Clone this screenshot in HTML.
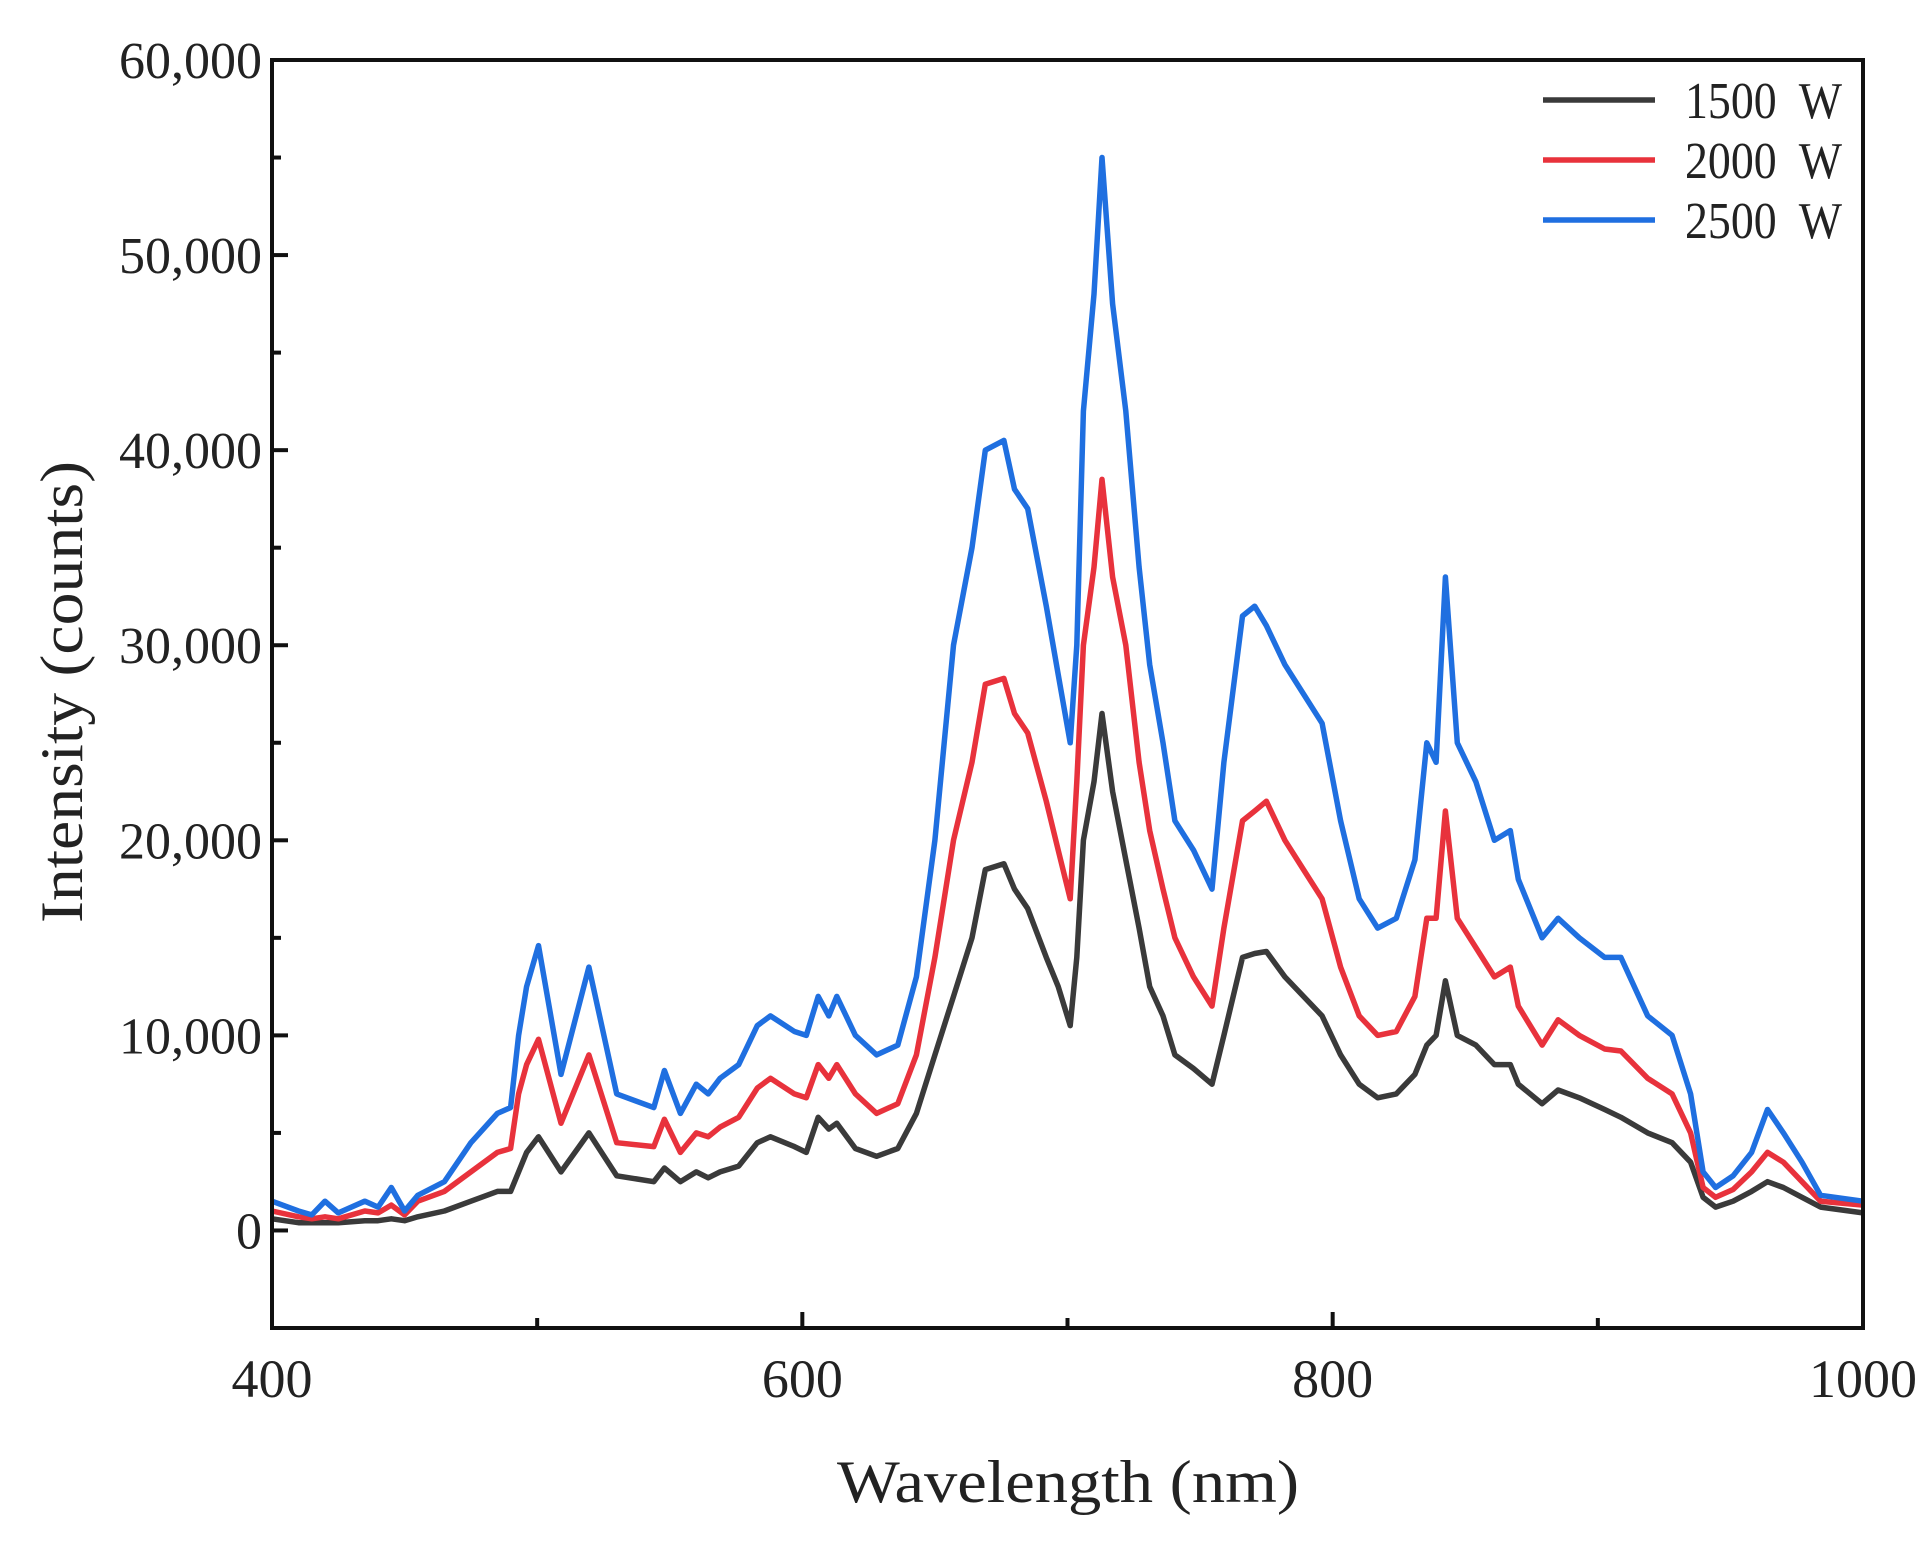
<!DOCTYPE html>
<html><head><meta charset="utf-8"><style>
html,body{margin:0;padding:0;background:#fff;}
svg{display:block;}
text{font-family:"Liberation Serif",serif;fill:#222;}
</style></head><body>
<svg id="chart" width="1930" height="1554" viewBox="0 0 1930 1554" xmlns="http://www.w3.org/2000/svg">
<g id="series"></g>
<g id="axes"></g>
<text x="0" y="0" font-size="60" text-anchor="middle" textLength="462" lengthAdjust="spacingAndGlyphs" transform="translate(82,692) rotate(-90)">Intensity (counts)</text>
<text x="1068" y="1502" font-size="60" text-anchor="middle" textLength="462" lengthAdjust="spacingAndGlyphs">Wavelength (nm)</text>
<g>
<line x1="1543" y1="100" x2="1655" y2="100" stroke="#3a3a3a" stroke-width="5.5"/>
<text x="1685" y="118" font-size="52" textLength="157" lengthAdjust="spacingAndGlyphs" xml:space="preserve">1500  W</text>
<line x1="1543" y1="160" x2="1655" y2="160" stroke="#e8323c" stroke-width="5.5"/>
<text x="1685" y="178" font-size="52" textLength="157" lengthAdjust="spacingAndGlyphs" xml:space="preserve">2000  W</text>
<line x1="1543" y1="220" x2="1655" y2="220" stroke="#1f6fe0" stroke-width="5.5"/>
<text x="1685" y="238" font-size="52" textLength="157" lengthAdjust="spacingAndGlyphs" xml:space="preserve">2500  W</text>
</g>
</svg>
<script>
const wavelengths=[400,410,415,420,425,435,440,445,450,455,465,475,485,490,493,496,500.5,509,519.5,530,544,548,554,560,564.5,569,576,583,588,597,601.5,606,610,613,620,628,636,643,650,657,664,669,676,680,685,692,696.5,701,703.5,706,710,713,717,722,727,731,736,740.5,747.5,754.5,759,766,770.6,775,782,789,796,803,810,817,824,831,835.5,839,842.5,847,854,861,867,870,879,885,893,902.6,908.7,918.8,928,935,939.7,944.4,951,958,964,970,977,984,1000];
const blue2500=[1.5,1.0,0.8,1.5,0.9,1.5,1.2,2.2,1.0,1.8,2.5,4.5,6.0,6.3,10,12.5,14.6,8,13.5,7,6.3,8.2,6,7.5,7,7.8,8.5,10.5,11,10.2,10,12,11,12,10,9,9.5,13,20,30,35,40,40.5,38,37,32,28.5,25,30,42,48,55,47.5,42,34,29,25,21,19.5,17.5,24,31.5,32,31,29,27.5,26,21,17,15.5,16,19,25,24,33.5,25,23,20,20.5,18,15,16,15,14,14,11,10,7,3,2.2,2.8,4,6.2,5,3.5,1.8,1.5];
const red2000=[1.0,0.7,0.6,0.7,0.6,1.0,0.9,1.3,0.8,1.5,2.0,3.0,4.0,4.2,7,8.5,9.8,5.5,9,4.5,4.3,5.7,4,5,4.8,5.3,5.8,7.3,7.8,7,6.8,8.5,7.8,8.5,7,6,6.5,9,14,20,24,28,28.3,26.5,25.5,22,19.5,17,23,30,34,38.5,33.5,30,24,20.5,17.5,15,13,11.5,15.5,21,21.5,22,20,18.5,17,13.5,11,10,10.2,12,16,16,21.5,16,14.5,13,13.5,11.5,9.5,10.8,10,9.3,9.2,7.8,7,5,2.2,1.7,2.1,3,4,3.5,2.5,1.5,1.3];
const black1500=[0.6,0.4,0.4,0.4,0.4,0.5,0.5,0.6,0.5,0.7,1.0,1.5,2.0,2.0,3,4,4.8,3,5,2.8,2.5,3.2,2.5,3,2.7,3,3.3,4.5,4.8,4.3,4,5.8,5.2,5.5,4.2,3.8,4.2,6,9,12,15,18.5,18.8,17.5,16.5,14,12.5,10.5,14,20,23,26.5,22.5,19,15.5,12.5,11,9,8.3,7.5,10,14,14.2,14.3,13,12,11,9,7.5,6.8,7,8,9.5,10,12.8,10,9.5,8.5,8.5,7.5,6.5,7.2,6.8,6.2,5.8,5,4.5,3.5,1.7,1.2,1.5,2,2.5,2.2,1.7,1.2,0.9];
const yTickValues=[0,10000,20000,30000,40000,50000,60000];
const yTickLabels=["0","10,000","20,000","30,000","40,000","50,000","60,000"];
const xTickValues=[400,600,800,1000];
const xTickLabels=["400","600","800","1000"];

const L=272,R=1863,T=60,B=1328;
const xMin=400,xMax=1000,yMin=-5000,yMax=60000;
function xs(v){return L+(v-xMin)/(xMax-xMin)*(R-L);}
function ys(v){return B-(v-yMin)/(yMax-yMin)*(B-T);}
const NS="http://www.w3.org/2000/svg";
const sg=document.getElementById('series');
const ag=document.getElementById('axes');
function mk(tag,attrs,parent){const e=document.createElementNS(NS,tag);for(const k in attrs)e.setAttribute(k,attrs[k]);parent.appendChild(e);return e;}

const seriesList=[[black1500,'#3a3a3a','series-1500w'],[red2000,'#e8323c','series-2000w'],[blue2500,'#1f6fe0','series-2500w']];
seriesList.forEach(s=>{
  const d=wavelengths.map((w,i)=>(i?'L':'M')+xs(w).toFixed(1)+','+ys(s[0][i]*1000).toFixed(1)).join(' ');
  const p=mk('path',{d:d,fill:'none',stroke:s[1],'stroke-width':5.5,'stroke-linejoin':'round'},sg);
  
  
});

const frame=mk('rect',{x:L,y:T,width:R-L,height:B-T,fill:'none',stroke:'#111','stroke-width':4},ag);



yTickValues.forEach((v,i)=>{
  const t=mk('line',{x1:L,x2:L+16,y1:ys(v),y2:ys(v),stroke:'#111','stroke-width':4},ag);
  
  
  const m=mk('line',{x1:L,x2:L+9,y1:ys(v-5000),y2:ys(v-5000),stroke:'#111','stroke-width':4},ag);
  
  
  const lb=mk('text',{x:262,y:ys(v)+18,'font-size':52,'text-anchor':'end'},ag);
  lb.textContent=yTickLabels[i];
  
  
});
xTickValues.forEach((v,i)=>{
  const t=mk('line',{x1:xs(v),x2:xs(v),y1:B,y2:B-16,stroke:'#111','stroke-width':4},ag);
  
  
  if(v<xMax){
    const m=mk('line',{x1:xs(v+100),x2:xs(v+100),y1:B,y2:B-10,stroke:'#111','stroke-width':4},ag);
    
    
  }
  const lb=mk('text',{x:xs(v),y:1397,'font-size':54,'text-anchor':'middle'},ag);
  lb.textContent=xTickLabels[i];
  
  
});
</script>
</body></html>
